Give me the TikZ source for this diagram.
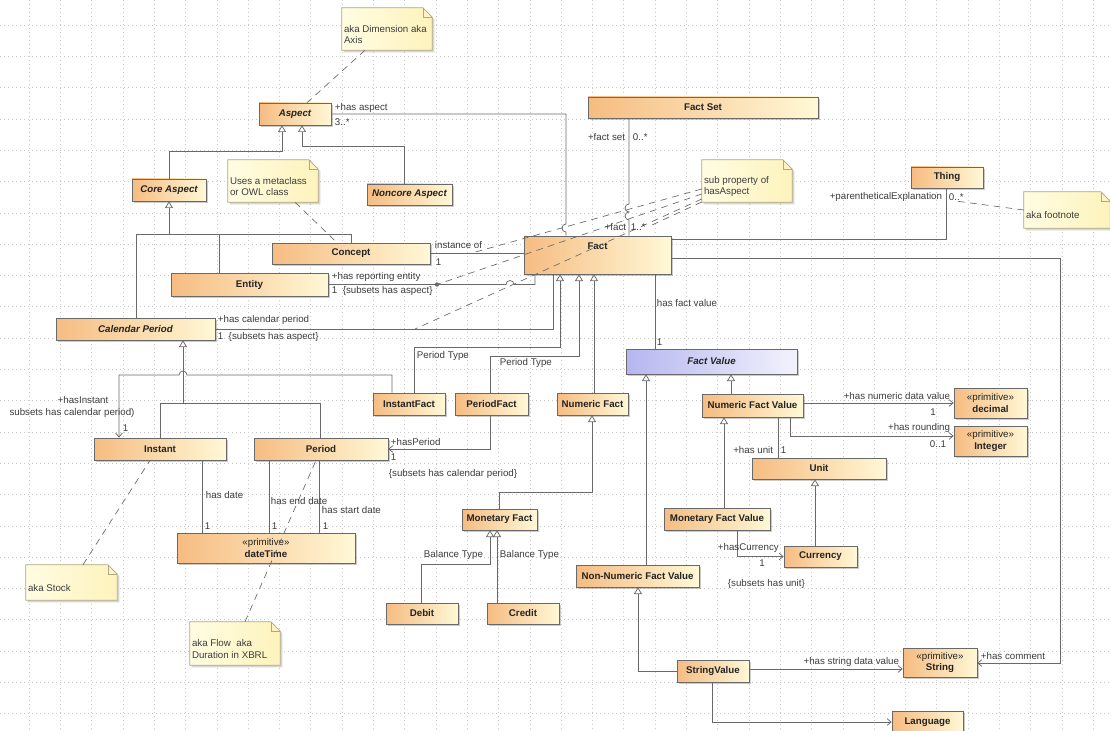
\documentclass[tikz,border=0pt]{standalone}
\usepackage{fontspec}
\setmainfont{Liberation Sans}
\usetikzlibrary{fit,arrows.meta,shadows}

\definecolor{classleft}{RGB}{246,188,130}
\definecolor{classright}{RGB}{255,248,214}
\definecolor{valueleft}{RGB}{182,182,240}
\definecolor{valueright}{RGB}{242,242,253}
\definecolor{noteleft}{RGB}{255,252,226}
\definecolor{noteright}{RGB}{254,243,188}
\definecolor{noteedge}{RGB}{175,168,130}
\definecolor{linegray}{RGB}{105,105,105}
\definecolor{gridgray}{RGB}{200,200,200}
\definecolor{labeltext}{RGB}{60,60,60}
\definecolor{classtext}{RGB}{35,35,35}

\newcommand{\umlfont}{\fontsize{7.3}{8.6}\selectfont}

\tikzset{
  umlclass/.style={draw=linegray, line width=0.5pt, left color=classleft, right color=classright,
    inner sep=0pt, text=classtext, font=\umlfont\bfseries, align=center,
    drop shadow={shadow xshift=1.5pt, shadow yshift=-1.5pt, fill=black!45, opacity=0.45}},
  abstractclass/.style={umlclass, font=\umlfont\bfseries\itshape},
  valueclass/.style={abstractclass, left color=valueleft, right color=valueright},
  boxsize/.style 2 args={minimum width=#1*0.75pt, minimum height=#2*0.75pt},
  notebody/.style={draw=noteedge, line width=0.5pt, left color=noteleft, right color=noteright,
    drop shadow={shadow xshift=1.5pt, shadow yshift=-1.5pt, fill=black!40, opacity=0.4}},
  lbl/.style={font=\umlfont, text=labeltext, inner sep=0.5pt},
  notetext/.style={lbl, align=left},
  assoc/.style={draw=linegray, line width=0.55pt},
  nav/.style={assoc, -{Straight Barb[length=3pt,width=5pt]}},
  gen/.style={assoc, -{Triangle[open,length=5pt,width=6pt,fill=white]}},
  dashline/.style={draw=linegray, line width=0.5pt, dash pattern=on 5pt off 4pt},
  gridline/.style={draw=gridgray, line width=0.4pt, dash pattern=on 1pt off 2pt}
}

% note with a folded corner: name, top left, bottom right, text
\newcommand{\umlnote}[4]{%
  \node[inner sep=0pt, fit={#2 #3}] (#1) {};
  \path[notebody] (#1.south west) -- (#1.north west) -- ([xshift=-7pt]#1.north east)
    -- ([yshift=-7pt]#1.north east) -- (#1.south east) -- cycle;
  \draw[draw=noteedge, line width=0.5pt] ([xshift=-7pt]#1.north east) |- ([yshift=-7pt]#1.north east);
  \node[notetext, anchor=west] (#1-text) at ([xshift=1pt,yshift=-4pt]#1.west) {#4};
}

\begin{document}
\begin{tikzpicture}[x=0.75pt, y=-0.75pt]

  % Canvas and grid
  \useasboundingbox (0,0) rectangle (1110,731);
  \fill[white] (0,0) rectangle (1110,731);
  \foreach \gx in {29,60.3,...,1110} \draw[gridline] (\gx,0) -- (\gx,731);
  \foreach \gy in {25,56.3,...,731} \draw[gridline] (0,\gy) -- (1110,\gy);

  % Define nodes
  \node[abstractclass, boxsize={72}{22}]  (aspect)      at (295,114)     {Aspect};
  \node[abstractclass, boxsize={74}{22}]  (coreaspect)  at (169,190)     {Core Aspect};
  \node[abstractclass, boxsize={85}{21}]  (noncore)     at (409.5,194.5) {Noncore Aspect};
  \node[umlclass,      boxsize={158}{21}] (concept)     at (351,253.5)   {Concept};
  \node[umlclass,      boxsize={157}{23}] (entity)      at (249.5,284.5) {Entity};
  \node[abstractclass, boxsize={159}{22}] (calperiod)   at (135.5,329)   {Calendar Period};
  \node[umlclass,      boxsize={230}{21}] (factset)     at (703,107.5)   {Fact Set};
  \node[umlclass,      boxsize={147}{38},
        label={[name=fact-label, anchor=north, yshift=-2pt, font=\umlfont\bfseries, text=classtext]north:Fact}]
                                          (fact)        at (597.5,255)   {};
  \node[umlclass,      boxsize={72}{21}]  (thing)       at (947,177.5)   {Thing};
  \node[umlclass,      boxsize={72}{22}]  (instantfact) at (409,404)     {InstantFact};
  \node[umlclass,      boxsize={73}{22}]  (periodfact)  at (491.5,404)   {PeriodFact};
  \node[umlclass,      boxsize={71}{22}]  (numfact)     at (592.5,404)   {Numeric Fact};
  \node[umlclass,      boxsize={132}{22}] (instant)     at (160,449)     {Instant};
  \node[umlclass,      boxsize={134}{22}] (period)      at (321,449)     {Period};
  \node[umlclass,      boxsize={178}{30}] (datetime)    at (266,548)     {{\mdseries «primitive»}\\dateTime};
  \node[umlclass,      boxsize={75}{21}]  (monfact)     at (499.5,519.5) {Monetary Fact};
  \node[umlclass,      boxsize={72}{21}]  (debit)       at (422,613.5)   {Debit};
  \node[umlclass,      boxsize={72}{21}]  (credit)      at (523,613.5)   {Credit};
  \node[valueclass,    boxsize={171}{25}] (factvalue)   at (711.5,361.5) {Fact Value};
  \node[umlclass,      boxsize={101}{23}] (numfv)       at (752.5,405.5) {Numeric Fact Value};
  \node[umlclass,      boxsize={73}{30}]  (decimal)     at (990.5,403)   {{\mdseries «primitive»}\\decimal};
  \node[umlclass,      boxsize={73}{30}]  (integer)     at (990.5,441)   {{\mdseries «primitive»}\\Integer};
  \node[umlclass,      boxsize={134}{21}] (unit)        at (819,468.5)   {Unit};
  \node[umlclass,      boxsize={106}{22}] (monfv)       at (717,519)     {Monetary Fact Value};
  \node[umlclass,      boxsize={73}{21}]  (currency)    at (820.5,556.5) {Currency};
  \node[umlclass,      boxsize={123}{22}] (nonnumfv)    at (637.5,576)   {Non-Numeric Fact Value};
  \node[umlclass,      boxsize={72}{22}]  (stringvalue) at (713,671)     {StringValue};
  \node[umlclass,      boxsize={74}{29}]  (string)      at (940,662.5)   {{\mdseries «primitive»}\\String};
  \node[umlclass,      boxsize={71}{22}]  (language)    at (927.5,722)   {Language};

  % Notes
  \umlnote{dimnote}{(342,8)}{(432,50)}{aka Dimension aka\\Axis}
  \umlnote{metanote}{(228,160)}{(318,202)}{Uses a metaclass\\or OWL class}
  \umlnote{subnote}{(702,160)}{(792,202)}{sub property of\\hasAspect}
  \umlnote{footnote}{(1024,192)}{(1110,228)}{aka footnote}
  \umlnote{stocknote}{(26,565)}{(117,600)}{aka Stock}
  \umlnote{flownote}{(190,622)}{(280,665)}{aka Flow\ \ aka\\Duration in XBRL}

  % Generalizations
  \draw[gen] (coreaspect.north) |- (282,151) -- (aspect.south -| 282,0);
  \draw[gen] (noncore.north -| 404,0) |- (302,146) -- (aspect.south -| 302,0);
  \draw[gen] (calperiod.north -| 136,0) |- (coreaspect.south |- 0,234) -- (coreaspect.south);
  \draw[assoc] (entity.north -| 219,0) -- (219,234);
  \draw[assoc] (concept.north -| 351,0) |- (coreaspect.south |- 0,234);
  \draw[gen] (instantfact.north -| 414,0) |- (560,347) -- (fact.south -| 560,0);
  \draw[gen] (periodfact.north -| 490,0) |- (579,356) -- (fact.south -| 579,0);
  \draw[gen] (numfact.north -| 594,0) -- (fact.south -| 594,0);
  \draw[gen] (instant.north -| 160,0) |- (183,403) -- (calperiod.south -| 183,0);
  \draw[assoc] (period.north -| 320,0) |- (183,403);
  \draw[gen] (monfact.north -| 499,0) |- (592,492) -- (numfact.south -| 592,0);
  \draw[gen] (debit.north -| 421,0) |- (490,564) -- (monfact.south -| 490,0);
  \draw[gen] (credit.north -| 497,0) -- (monfact.south -| 497,0);
  \draw[gen] (numfv.north -| 731,0) -- (factvalue.south -| 731,0);
  \draw[gen] (nonnumfv.north -| 646,0) -- (factvalue.south -| 646,0);
  \draw[gen] (monfv.north -| 724,0) -- (numfv.south -| 724,0);
  \draw[gen] (currency.north -| 815,0) -- (unit.south -| 815,0);
  \draw[gen] (stringvalue.west) -| (nonnumfv.south -| 638,0);

  % Associations
  \draw[assoc] (aspect.east) -| (566,224) arc[start angle=90,end angle=270,radius=3pt] -- (fact.north -| 566,0);
  \draw[assoc] (factset.south -| 629,0) -- (629,204) arc[start angle=90,end angle=270,radius=3pt]
    arc[start angle=90,end angle=270,radius=3pt] -- (fact.north -| 629,0);
  \draw[assoc] (thing.south -| 946,0) |- (fact.east |- 0,239);
  \draw[nav] (fact.east |- 0,258) -| (1060,663) -- (string.east |- 0,663);
  \draw[assoc] (concept.east) -- (fact.west |- concept.east);
  \draw[assoc] (entity.east) -- (506,0 |- entity.east) arc[start angle=180,end angle=0,radius=3pt]
    -| (fact.south -| 535,0);
  \coordinate (entdot) at (437,0 |- entity.east);
  \fill[linegray] (entdot) circle (1.6pt);
  \draw[assoc] (calperiod.east) -| (fact.south -| 553,0);
  \draw[nav] (instantfact.north -| 392,0) |- (187,375) arc[start angle=0,end angle=180,radius=3pt]
    -| (instant.north -| 119,0);
  \draw[nav] (periodfact.south -| 490,0) |- (period.east);
  \draw[assoc] (instant.south -| 202,0) -- (datetime.north -| 202,0);
  \draw[assoc] (period.south -| 269,0) -- (datetime.north -| 269,0);
  \draw[assoc] (period.south -| 319,0) -- (datetime.north -| 319,0);
  \draw[assoc] (fact.south -| 655,0) -- (factvalue.north -| 655,0);
  \draw[nav] (numfv.east |- 0,403) -- (decimal.west |- 0,403);
  \draw[nav] (numfv.south -| 790,0) |- (integer.west |- 0,436);
  \draw[assoc] (numfv.south -| 778,0) -- (unit.north -| 778,0);
  \draw[nav] (monfv.south -| 737,0) |- (currency.west);
  \draw[nav] (stringvalue.east |- 0,669) -- (string.west |- 0,669);
  \draw[nav] (stringvalue.south -| 712,0) |- (language.west);

  % Note anchors
  \coordinate (factend) at (652,225);
  \draw[dashline] (dimnote.south -| 365,0) -- (aspect.north -| 307,0);
  \draw[dashline] (metanote.south -| 295,0) -- (concept.north -| 337,0);
  \draw[dashline] ([shift={(0,8)}]subnote.west) -- (concept.east -| 470,0);
  \draw[dashline] ([shift={(0,13)}]subnote.west) -- (entdot);
  \draw[dashline] ([shift={(0,18)}]subnote.west) -- (calperiod.east -| 415,0);
  \draw[dashline] ([shift={(0,21)}]subnote.west) -- (factend);
  \draw[dashline] ([shift={(11,13)}]thing.south) -- (footnote.west);
  \draw[dashline] (stocknote.north -| 83,0) -- (instant.south -| 150,0);
  \draw[dashline] (flownote.north -| 245,0) -- (period.south -| 316,0);

  % Labels
  \node[lbl, anchor=west] (l-hasaspect)   at (334,108) {+has aspect};
  \node[lbl, anchor=west] (l-aspmult)     at (334,122) {3..*};
  \node[lbl, anchor=east] (l-factset)     at (626,137) {+fact set};
  \node[lbl, anchor=west] (l-factsetmult) at (632,137) {0..*};
  \node[lbl, anchor=east] (l-fact)        at (627,227) {+fact};
  \node[lbl, anchor=west] (l-factmult)    at (630,227) {1..*};
  \node[lbl, anchor=east] (l-paren)       at (943,197) {+parentheticalExplanation};
  \node[lbl, anchor=west] (l-parenmult)   at (948,197) {0..*};
  \node[lbl, anchor=west] (l-instof)      at (434,245) {instance of};
  \node[lbl, anchor=west] (l-instofmult)  at (435,262) {1};
  \node[lbl, anchor=west] (l-repent)      at (331,277) {+has reporting entity};
  \node[lbl, anchor=west] (l-repentmult)  at (331,291) {1\ \ \{subsets has aspect\}};
  \node[lbl, anchor=west] (l-calper)      at (217,320) {+has calendar period};
  \node[lbl, anchor=west] (l-calpermult)  at (217,337) {1\ \ \{subsets has aspect\}};
  \node[lbl, anchor=west] (l-ptype1)      at (416,356) {Period Type};
  \node[lbl, anchor=west] (l-ptype2)      at (499,363) {Period Type};
  \node[lbl]              (l-hasinstant)  at (83,400)  {+hasInstant};
  \node[lbl]              (l-instsub)     at (72,413)  {subsets has calendar period)};
  \node[lbl, anchor=west] (l-instmult)    at (122,428) {1};
  \node[lbl, anchor=west] (l-hasperiod)   at (390,442) {+hasPeriod};
  \node[lbl, anchor=west] (l-permult)     at (390,457) {1};
  \node[lbl, anchor=west] (l-persub)      at (388,474) {\{subsets has calendar period\}};
  \node[lbl, anchor=west] (l-hasdate)     at (205,495) {has date};
  \node[lbl, anchor=west] (l-hasend)      at (270,501) {has end date};
  \node[lbl, anchor=west] (l-hasstart)    at (321,510) {has start date};
  \node[lbl, anchor=west] (l-datemult1)   at (204,526) {1};
  \node[lbl, anchor=west] (l-datemult2)   at (271,526) {1};
  \node[lbl, anchor=west] (l-datemult3)   at (322,526) {1};
  \node[lbl, anchor=west] (l-bal1)        at (423,555) {Balance Type};
  \node[lbl, anchor=west] (l-bal2)        at (499,555) {Balance Type};
  \node[lbl, anchor=west] (l-hasfv)       at (656,303) {has fact value};
  \node[lbl, anchor=west] (l-fvmult)      at (656,342) {1};
  \node[lbl, anchor=east] (l-numdata)     at (951,396) {+has numeric data value};
  \node[lbl]              (l-nummult)     at (933,412) {1};
  \node[lbl, anchor=east] (l-rounding)    at (951,428) {+has rounding};
  \node[lbl]              (l-roundmult)   at (938,444) {0..1};
  \node[lbl, anchor=east] (l-hasunit)     at (774,450) {+has unit};
  \node[lbl, anchor=west] (l-unitmult)    at (780,450) {1};
  \node[lbl, anchor=west] (l-hascur)      at (717,548) {+hasCurrency};
  \node[lbl]              (l-curmult)     at (762,563) {1};
  \node[lbl, anchor=west] (l-cursub)      at (727,584) {\{subsets has unit\}};
  \node[lbl, anchor=east] (l-strdata)     at (900,662) {+has string data value};
  \node[lbl, anchor=west] (l-comment)     at (980,656) {+has comment};

\end{tikzpicture}
\end{document}
